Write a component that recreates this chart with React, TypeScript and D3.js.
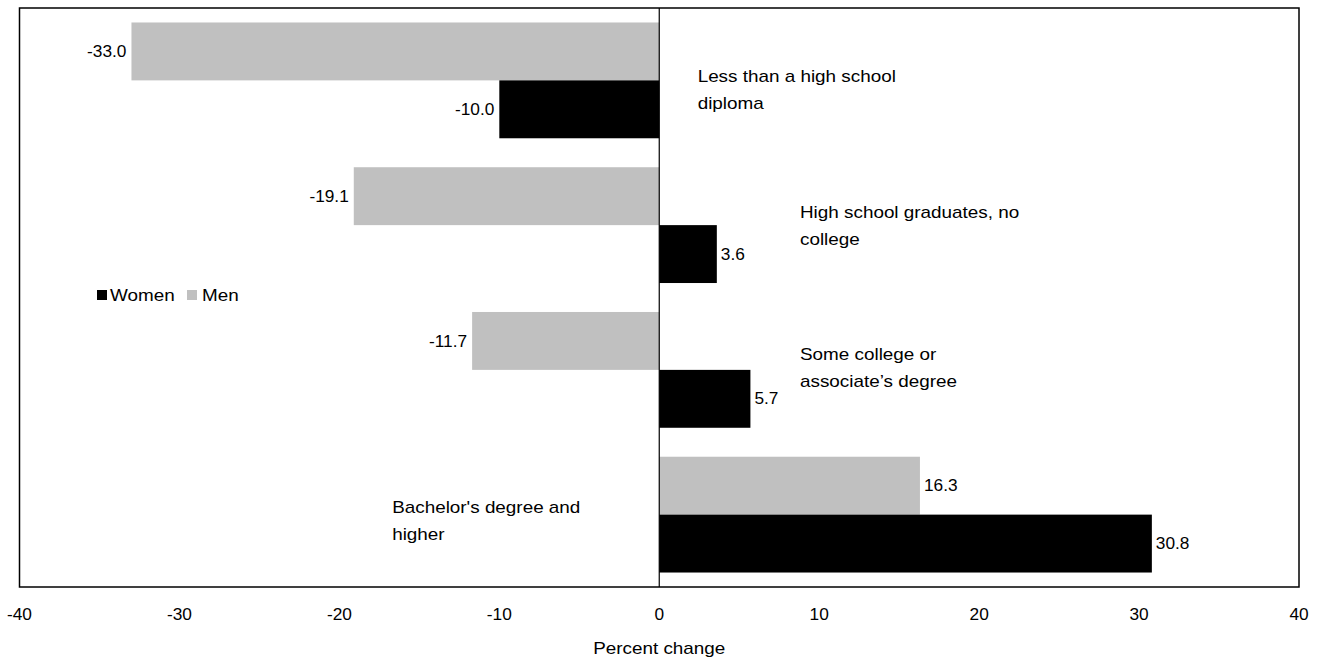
import React from "react";
import * as d3 from "d3";

const categories = [
  "Less than a high school diploma",
  "High school graduates, no college",
  "Some college or associate's degree",
  "Bachelor's degree and higher",
];
const labelLines = [
  ["Less than a high school", "diploma"],
  ["High school graduates, no", "college"],
  ["Some college or", "associate\u2019s degree"],
  ["Bachelor's degree and", "higher"],
];
const menValues = [-33.0, -19.1, -11.7, 16.3];
const womenValues = [-10.0, 3.6, 5.7, 30.8];
const xTicks = [-40, -30, -20, -10, 0, 10, 20, 30, 40];
const seriesNames = ["Women", "Men"];

// layout for category labels: anchor value on x scale, and y offset from band center
const labelAnchorX = [2.4, 8.8, 8.8, -16.7];
const labelOffsetY = [9.5, 1, -2, 6];

const W = 1319;
const H = 658;
const FONT = "'Liberation Sans', Arial, sans-serif";
const FS = 16;
const WORD_STRETCH = 1.18;
const NUM_STRETCH = 1.08;

function SText({
  x,
  y,
  anchor = "start",
  sx,
  children,
}: {
  x: number;
  y: number;
  anchor?: "start" | "middle" | "end";
  sx: number;
  children: React.ReactNode;
}) {
  return (
    <text
      transform={`translate(${x},${y}) scale(${sx},1)`}
      x={0}
      y={0}
      dy="0.35em"
      textAnchor={anchor}
      fontSize={FS}
      fill="#000"
    >
      {children}
    </text>
  );
}

export default function App() {
  const left = 19.5, right = 1299, top = 8, bottom = 587;
  const x = d3.scaleLinear().domain([-40, 40]).range([left, right]);
  const y = d3
    .scaleBand<string>()
    .domain(categories)
    .range([top, bottom])
    .paddingInner(0.2)
    .paddingOuter(0.1);
  const bw = y.bandwidth() / 2;
  const step = y.step();

  const bars: { cat: string; v: number; color: string; y0: number }[] = [];
  categories.forEach((c, i) => {
    bars.push({ cat: c, v: menValues[i], color: "#c0c0c0", y0: y(c)! });
    bars.push({ cat: c, v: womenValues[i], color: "#000000", y0: y(c)! + bw });
  });

  return (
    <svg
      width={W}
      height={H}
      style={{ position: "absolute", left: 0, top: 0, background: "#fff" }}
      fontFamily={FONT}
    >
      {bars.map((b, i) => {
        const x0 = x(Math.min(0, b.v));
        const x1 = x(Math.max(0, b.v));
        const cy = b.y0 + bw / 2;
        return (
          <g key={i}>
            <rect x={x0} y={b.y0} width={x1 - x0} height={bw} fill={b.color} />
            <SText
              x={b.v < 0 ? x0 - 5 : x1 + 4}
              y={cy}
              anchor={b.v < 0 ? "end" : "start"}
              sx={NUM_STRETCH}
            >
              {b.v.toFixed(1)}
            </SText>
          </g>
        );
      })}
      <line x1={x(0)} x2={x(0)} y1={top} y2={bottom} stroke="#000" strokeWidth={1.2} />
      <rect
        x={left}
        y={top}
        width={right - left}
        height={bottom - top}
        fill="none"
        stroke="#000"
        strokeWidth={1.5}
      />
      {categories.map((c, i) => {
        const cy = y(c)! - step * 0.1 + step / 2 + labelOffsetY[i];
        const lx = x(labelAnchorX[i]);
        return (
          <g key={c}>
            <SText x={lx} y={cy - 13.5} sx={WORD_STRETCH}>{labelLines[i][0]}</SText>
            <SText x={lx} y={cy + 13.5} sx={WORD_STRETCH}>{labelLines[i][1]}</SText>
          </g>
        );
      })}
      {xTicks.map((t) => (
        <SText key={t} x={x(t)} y={614} anchor="middle" sx={NUM_STRETCH}>
          {t}
        </SText>
      ))}
      <SText x={x(0)} y={648} anchor="middle" sx={WORD_STRETCH}>
        Percent change
      </SText>
      <g transform="translate(97,290)">
        <rect x={0} y={0} width={10} height={10} fill="#000" />
        <SText x={13} y={5} sx={WORD_STRETCH}>{seriesNames[0]}</SText>
        <rect x={90} y={0} width={10} height={10} fill="#c0c0c0" />
        <SText x={105} y={5} sx={WORD_STRETCH}>{seriesNames[1]}</SText>
      </g>
    </svg>
  );
}
